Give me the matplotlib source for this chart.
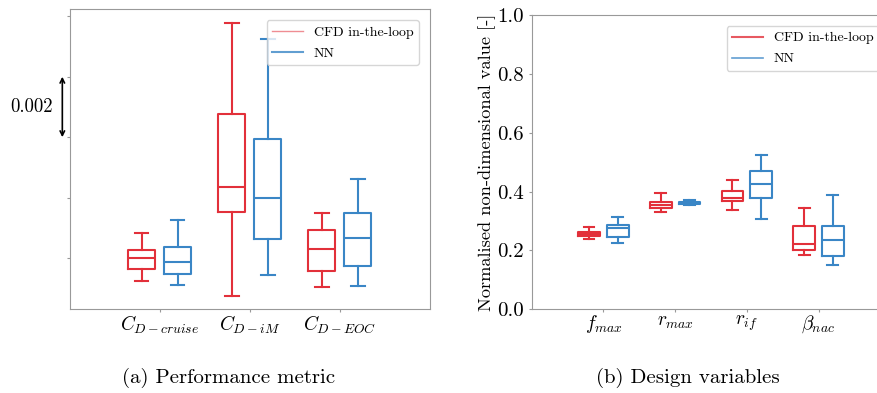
import numpy as np
import matplotlib.pyplot as plt
from matplotlib.lines import Line2D

plt.rcParams['font.family'] = 'serif'
plt.rcParams['font.serif'] = ['cmr10', 'DejaVu Serif']
plt.rcParams['mathtext.fontset'] = 'cm'
plt.rcParams['axes.formatter.use_mathtext'] = True

# Données
perf_labels = [r'$C_{D-cruise}$', r'$C_{D-iM}$', r'$C_{D-EOC}$']
# [min, Q1, médiane, Q3, max]
perf_cfd = [[0.02325, 0.02363, 0.02401, 0.02427, 0.02484],
            [0.02274, 0.02554, 0.02636, 0.02878, 0.03178],
            [0.02305, 0.02358, 0.02430, 0.02492, 0.02548]]
perf_nn = [[0.02312, 0.02349, 0.02389, 0.02437, 0.02525],
           [0.02345, 0.02464, 0.02598, 0.02794, 0.03125],
           [0.02308, 0.02375, 0.02468, 0.02551, 0.02662]]

var_labels = [r'$f_{max}$', r'$r_{max}$', r'$r_{if}$', r'$\beta_{nac}$']
var_cfd = [[0.240, 0.249, 0.256, 0.263, 0.281],
           [0.331, 0.345, 0.356, 0.366, 0.394],
           [0.336, 0.367, 0.379, 0.401, 0.439],
           [0.184, 0.202, 0.222, 0.284, 0.343]]
var_nn = [[0.226, 0.245, 0.275, 0.288, 0.313],
          [0.353, 0.357, 0.362, 0.366, 0.371],
          [0.307, 0.377, 0.427, 0.471, 0.524],
          [0.150, 0.181, 0.236, 0.283, 0.388]]

red = '#e2303a'
blue = '#3a86c6'
spine_col = '#999999'


def stats(rows):
    out = []
    for lo, q1, med, q3, hi in rows:
        out.append(dict(whislo=lo, q1=q1, med=med, q3=q3, whishi=hi, fliers=[]))
    return out


def draw(ax, rows, pos, col):
    props = dict(color=col, linewidth=1.5)
    ax.bxp(stats(rows), positions=pos, widths=0.3, showfliers=False,
           boxprops=props, whiskerprops=props, capprops=props,
           medianprops=props, manage_ticks=False)


def style(ax):
    for s in ax.spines.values():
        s.set_color(spine_col)
    ax.tick_params(length=2, color=spine_col, labelsize=15)
    ax.tick_params(axis='x', pad=1, labelsize=14)


def legend(ax, handles):
    ax.legend(handles, ['CFD in-the-loop', 'NN'], loc='upper right',
              fontsize=10, borderaxespad=0.8, labelspacing=0.6,
              handlelength=2.2)


fig = plt.figure(figsize=(8.78, 3.93), dpi=100)

# (a) Performance metric
ax1 = fig.add_axes([0.0792, 0.213, 0.4106, 0.7634])
x = np.arange(1, len(perf_labels) + 1)
draw(ax1, perf_cfd, x - 0.2, red)
draw(ax1, perf_nn, x + 0.2, blue)
ax1.set_xlim(0, 4)
ax1.set_ylim(0.02231, 0.03223)
ax1.set_xticks(x)
ax1.set_xticklabels(perf_labels)
ax1.set_yticks([0.024, 0.026, 0.028, 0.030, 0.032])
ax1.set_yticklabels([])
style(ax1)
ax1.annotate('', xy=(-0.02, 0.030), xytext=(-0.02, 0.028),
             xycoords=ax1.get_yaxis_transform(), textcoords=ax1.get_yaxis_transform(),
             arrowprops=dict(arrowstyle='<->', color='black', lw=1.2,
                             shrinkA=0, shrinkB=0, mutation_scale=8),
             annotation_clip=False)
ax1.text(-0.104, 0.029, '0.002', transform=ax1.get_yaxis_transform(),
         ha='center', va='center', fontsize=13.5)
legend(ax1, [Line2D([], [], color=red, lw=1.0, alpha=0.55),
             Line2D([], [], color=blue, lw=1.5, alpha=0.8)])

# (b) Design variables
ax2 = fig.add_axes([0.6056, 0.213, 0.4083, 0.7489])
x = np.arange(1, len(var_labels) + 1)
draw(ax2, var_cfd, x - 0.2, red)
draw(ax2, var_nn, x + 0.2, blue)
ax2.set_xlim(0, 5)
ax2.set_ylim(0, 1)
ax2.set_xticks(x)
ax2.set_xticklabels(var_labels)
ax2.set_yticks(np.arange(0, 1.01, 0.2))
ax2.set_yticklabels(['%.1f' % v for v in np.arange(0, 1.01, 0.2)])
ax2.set_ylabel('Normalised non-dimensional value [-]', fontsize=13.2, labelpad=1)
style(ax2)
legend(ax2, [Line2D([], [], color=red, lw=1.5, alpha=0.8),
             Line2D([], [], color=blue, lw=1.2, alpha=0.8)])

fig.text(0.26, 0.038, '(a) Performance metric', ha='center', va='center', fontsize=15)
fig.text(0.783, 0.038, '(b) Design variables', ha='center', va='center', fontsize=15)

fig.savefig('out.png', dpi=100)
